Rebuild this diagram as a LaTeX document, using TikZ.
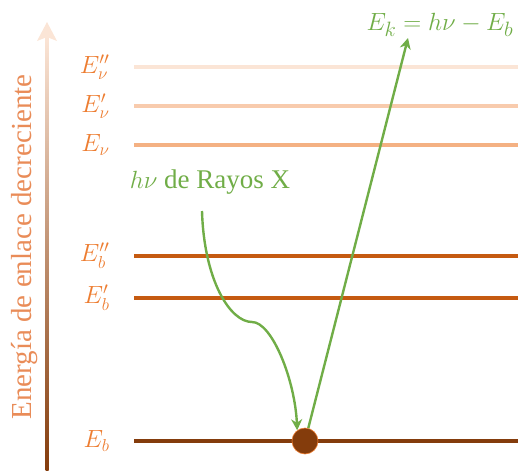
\documentclass[tikz,border=0pt]{standalone}
\usepackage{fontspec}
\setmainfont{Liberation Serif}
\usepackage{amsmath}
\usetikzlibrary{arrows.meta}
\definecolor{xrayGreen}{RGB}{112,173,71}
\definecolor{labelOrange}{RGB}{237,125,49}
\definecolor{axisOrange}{RGB}{233,140,88}
\definecolor{peachPale}{RGB}{251,229,214}
\definecolor{peachLight}{RGB}{248,203,173}
\definecolor{peachMid}{RGB}{244,177,131}
\definecolor{rustOrange}{RGB}{197,90,17}
\definecolor{coreBrown}{RGB}{132,60,12}

\tikzset{
  level/.style={line width=3.6pt, preaction={draw=gray!40, line width=4.6pt}},
  photon/.style={xrayGreen, line width=2.4pt, -{Stealth[length=11pt, width=11pt, inset=3.5pt]}},
  elabel/.style={labelOrange, anchor=east, font=\fontsize{27}{30}\selectfont}
}

\begin{document}
\begin{tikzpicture}[x=1pt, y=-1pt]
            \useasboundingbox (0,0) rectangle (520,471);

            % Energy axis
            \shade[bottom color=coreBrown, top color=peachPale] (45.5,36) rectangle (48.5,471);
            \fill[peachPale] (47,22) -- (57,41) -- (47,37) -- (37,41) -- cycle;
            \node[axisOrange, rotate=90, font=\fontsize{29}{32}\selectfont] (axis) at (25,247) {Energía de enlace decreciente};

            % Levels
            \foreach \y/\col/\lab/\nm in {67/peachPale/{E''_\nu}/vpp, 106/peachLight/{E'_\nu}/vp, 145/peachMid/{E_\nu}/v,
                                          256/rustOrange/{E''_b}/bpp, 298/rustOrange/{E'_b}/bp, 441/coreBrown/{E_b}/b} {
              \draw[level, \col] (134,\y) -- (518,\y);
              \node[elabel] (lab\nm) at (113,\y) {$\lab$};
            }

            % Core electron
            \node[circle, fill=coreBrown, draw=labelOrange, line width=0.6pt, minimum size=26pt, inner sep=0pt] (e) at (305,441) {};

            % Texts
            \node[xrayGreen, font=\fontsize{27}{30}\selectfont] (xray) at (210,182) {$h\nu$ de Rayos X};
            \node[xrayGreen, font=\fontsize{30}{33}\selectfont] (ek) at (440,25) {$E_k = h\nu - E_b$};
            \coordinate (xs) at (202,211);
            \coordinate (ektip) at (408,38);

            % Photon in, electron out
            \draw[photon] (xs) .. controls (204,280) and (230,322) .. (252,322)
                               .. controls (272,322) and (295,380) .. (e.126);
            \draw[photon] (e) -- (ektip);
        \end{tikzpicture}
\end{document}
